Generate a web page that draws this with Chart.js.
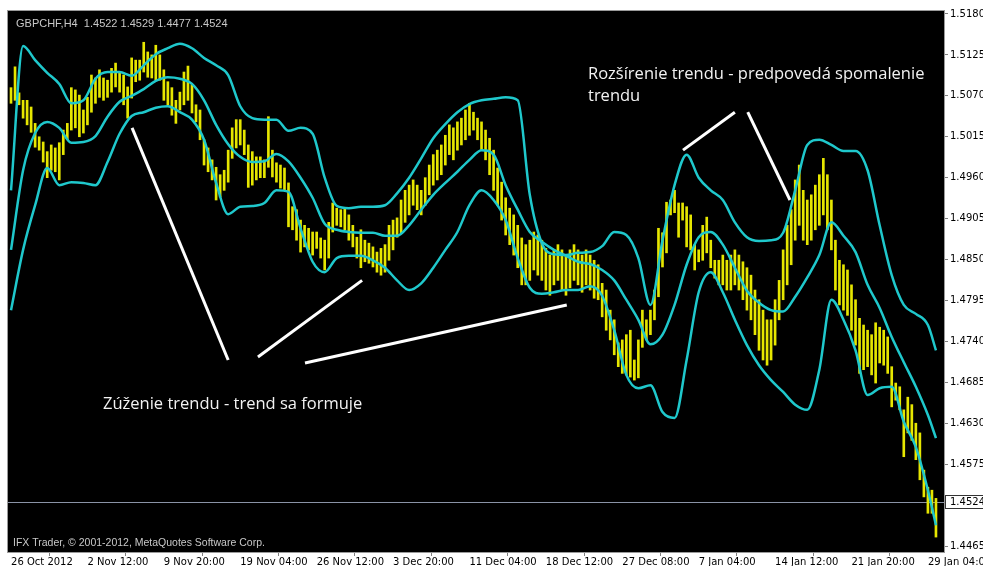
<!DOCTYPE html>
<html>
<head>
<meta charset="utf-8">
<script src="https://cdn.jsdelivr.net/npm/chart.js@4"></script>
<style>
  html, body { margin: 0; padding: 0; background: #fff; }
</style>
</head>
<body>
<canvas id="myChart" width="983" height="566"></canvas>
<script>
// GBPCHF H4 with Bollinger bands
const symbol = 'GBPCHF,H4';
const lastBar = { open: 1.4522, high: 1.4529, low: 1.4477, close: 1.4524 };

const timeLabels = ['26 Oct 2012', '2 Nov 12:00', '9 Nov 20:00', '19 Nov 04:00', '26 Nov 12:00', '3 Dec 20:00',
  '11 Dec 04:00', '18 Dec 12:00', '27 Dec 08:00', '7 Jan 04:00', '14 Jan 12:00', '21 Jan 20:00', '29 Jan 04:00'];
const barsPerLabel = 19;

const priceTicks = [1.5180, 1.5125, 1.5070, 1.5015, 1.4960, 1.4905, 1.4850, 1.4795, 1.4740, 1.4685, 1.4630, 1.4575, 1.4465];

const highs = [
  1.5081, 1.5109, 1.5074, 1.5064, 1.5064, 1.5055, 1.5033, 1.5015, 1.5008, 1.4995,
  1.5004, 1.5000, 1.5007, 1.5024, 1.5033, 1.5081, 1.5078, 1.5071, 1.5051, 1.5068,
  1.5098, 1.5094, 1.5105, 1.5094, 1.5091, 1.5107, 1.5114, 1.5101, 1.5098, 1.5082,
  1.5121, 1.5118, 1.5118, 1.5142, 1.5129, 1.5125, 1.5138, 1.5125, 1.5105, 1.5089,
  1.5081, 1.5064, 1.5075, 1.5102, 1.5110, 1.5085, 1.5058, 1.5051, 1.5011, 1.5000,
  1.4984, 1.4974, 1.4964, 1.4970, 1.4997, 1.5027, 1.5038, 1.5038, 1.5024, 1.5004,
  1.4995, 1.4988, 1.4988, 1.4984, 1.5042, 1.4997, 1.4980, 1.4977, 1.4973, 1.4953,
  1.4921, 1.4917, 1.4903, 1.4896, 1.4892, 1.4887, 1.4887, 1.4879, 1.4876, 1.4900,
  1.4926, 1.4919, 1.4917, 1.4919, 1.4910, 1.4896, 1.4880, 1.4890, 1.4876, 1.4872,
  1.4867, 1.4860, 1.4865, 1.4870, 1.4896, 1.4903, 1.4906, 1.4930, 1.4943, 1.4950,
  1.4957, 1.4950, 1.4943, 1.4960, 1.4977, 1.4991, 1.4997, 1.5004, 1.5017, 1.5031,
  1.5027, 1.5035, 1.5040, 1.5051, 1.5060, 1.5048, 1.5040, 1.5035, 1.5024, 1.5013,
  1.4997, 1.4973, 1.4954, 1.4933, 1.4919, 1.4910, 1.4896, 1.4879, 1.4870, 1.4876,
  1.4887, 1.4883, 1.4876, 1.4865, 1.4856, 1.4863, 1.4870, 1.4863, 1.4856, 1.4863,
  1.4870, 1.4863, 1.4856, 1.4863, 1.4856, 1.4849, 1.4843, 1.4818, 1.4809, 1.4782,
  1.4769, 1.4738, 1.4742, 1.4749, 1.4755, 1.4715, 1.4742, 1.4782, 1.4769, 1.4782,
  1.4809, 1.4892, 1.4886, 1.4927, 1.4930, 1.4943, 1.4926, 1.4926, 1.4921, 1.4910,
  1.4870, 1.4863, 1.4896, 1.4907, 1.4876, 1.4849, 1.4849, 1.4856, 1.4849, 1.4856,
  1.4863, 1.4856, 1.4847, 1.4839, 1.4829, 1.4809, 1.4796, 1.4782, 1.4769, 1.4769,
  1.4796, 1.4822, 1.4863, 1.4896, 1.4917, 1.4957, 1.4977, 1.4943, 1.4930, 1.4937,
  1.4950, 1.4964, 1.4986, 1.4964, 1.4930, 1.4876, 1.4849, 1.4843, 1.4836, 1.4816,
  1.4796, 1.4771, 1.4762, 1.4755, 1.4749, 1.4765, 1.4759, 1.4755, 1.4746, 1.4706,
  1.4684, 1.4679, 1.4648, 1.4665, 1.4655, 1.4630, 1.4617, 1.4567, 1.4544, 1.4540,
  1.4529
];
const lows = [
  1.5060, 1.5064, 1.5058, 1.5040, 1.5031, 1.5021, 1.5001, 1.4997, 1.4981, 1.4960,
  1.4970, 1.4968, 1.4957, 1.4991, 1.5011, 1.5024, 1.5027, 1.5015, 1.5020, 1.5031,
  1.5048, 1.5060, 1.5068, 1.5064, 1.5068, 1.5075, 1.5082, 1.5075, 1.5058, 1.5040,
  1.5067, 1.5089, 1.5091, 1.5102, 1.5095, 1.5094, 1.5091, 1.5091, 1.5064, 1.5058,
  1.5044, 1.5033, 1.5051, 1.5058, 1.5064, 1.5047, 1.5035, 1.5011, 1.4977, 1.4968,
  1.4957, 1.4930, 1.4934, 1.4943, 1.4954, 1.4986, 1.5000, 1.5004, 1.4991, 1.4947,
  1.4950, 1.4957, 1.4960, 1.4960, 1.4974, 1.4961, 1.4954, 1.4946, 1.4943, 1.4894,
  1.4890, 1.4876, 1.4860, 1.4867, 1.4863, 1.4856, 1.4865, 1.4852, 1.4836, 1.4852,
  1.4887, 1.4896, 1.4894, 1.4890, 1.4876, 1.4867, 1.4852, 1.4839, 1.4847, 1.4845,
  1.4840, 1.4833, 1.4829, 1.4833, 1.4849, 1.4863, 1.4880, 1.4886, 1.4900, 1.4910,
  1.4923, 1.4917, 1.4910, 1.4923, 1.4937, 1.4950, 1.4957, 1.4964, 1.4977, 1.4991,
  1.4984, 1.4997, 1.5004, 1.5011, 1.5017, 1.5024, 1.5011, 1.4997, 1.4984, 1.4964,
  1.4943, 1.4923, 1.4903, 1.4883, 1.4870, 1.4856, 1.4839, 1.4816, 1.4816, 1.4822,
  1.4836, 1.4829, 1.4822, 1.4809, 1.4802, 1.4816, 1.4822, 1.4809, 1.4802, 1.4812,
  1.4822, 1.4816, 1.4806, 1.4816, 1.4809, 1.4798, 1.4796, 1.4773, 1.4755, 1.4742,
  1.4722, 1.4706, 1.4697, 1.4695, 1.4692, 1.4688, 1.4691, 1.4732, 1.4742, 1.4749,
  1.4769, 1.4800, 1.4840, 1.4859, 1.4910, 1.4913, 1.4880, 1.4903, 1.4867, 1.4863,
  1.4836, 1.4847, 1.4849, 1.4859, 1.4839, 1.4825, 1.4816, 1.4816, 1.4809, 1.4809,
  1.4816, 1.4809, 1.4796, 1.4782, 1.4769, 1.4749, 1.4728, 1.4715, 1.4708, 1.4715,
  1.4735, 1.4769, 1.4796, 1.4816, 1.4843, 1.4876, 1.4896, 1.4876, 1.4870, 1.4876,
  1.4890, 1.4896, 1.4910, 1.4890, 1.4863, 1.4809, 1.4789, 1.4782, 1.4775, 1.4755,
  1.4735, 1.4697, 1.4702, 1.4706, 1.4695, 1.4684, 1.4711, 1.4708, 1.4697, 1.4652,
  1.4661, 1.4648, 1.4585, 1.4617, 1.4607, 1.4581, 1.4554, 1.4531, 1.4509, 1.4509,
  1.4477
];

// Bollinger bands, one value every bandStep bars (last value = last bar)
const bandStep = 3;
const upperBand = [
  1.4943, 1.5137, 1.5118, 1.5101, 1.5086, 1.5060, 1.5064, 1.5093, 1.5102, 1.5102,
  1.5097, 1.5111, 1.5126, 1.5134, 1.5140, 1.5134, 1.5121, 1.5111, 1.5098, 1.5056,
  1.5040, 1.5038, 1.5038, 1.5023, 1.5027, 1.5019, 1.4960, 1.4922, 1.4919, 1.4921,
  1.4921, 1.4923, 1.4939, 1.4960, 1.4986, 1.5013, 1.5032, 1.5048, 1.5059, 1.5064,
  1.5066, 1.5068, 1.5064, 1.4937, 1.4872, 1.4857, 1.4856, 1.4859, 1.4860, 1.4868,
  1.4887, 1.4883, 1.4852, 1.4789, 1.4876, 1.4950, 1.4991, 1.4960, 1.4943, 1.4930,
  1.4900, 1.4880, 1.4875, 1.4876, 1.4886, 1.4943, 1.5004, 1.5011, 1.5004, 1.4996,
  1.4996, 1.4970, 1.4896, 1.4829, 1.4789, 1.4777, 1.4762, 1.4728
];
const middleBand = [
  1.4863, 1.4970, 1.5020, 1.5035, 1.5027, 1.5007, 1.5008, 1.5016, 1.5042, 1.5062,
  1.5070, 1.5079, 1.5090, 1.5095, 1.5093, 1.5086, 1.5064, 1.5031, 1.5005, 1.4988,
  1.4981, 1.4982, 1.4992, 1.4982, 1.4960, 1.4933, 1.4898, 1.4890, 1.4887, 1.4886,
  1.4886, 1.4882, 1.4882, 1.4896, 1.4917, 1.4937, 1.4953, 1.4968, 1.4984, 1.4997,
  1.4991, 1.4950, 1.4917, 1.4887, 1.4874, 1.4863, 1.4855, 1.4847, 1.4844, 1.4836,
  1.4822, 1.4796, 1.4769, 1.4736, 1.4749, 1.4789, 1.4843, 1.4880, 1.4887, 1.4870,
  1.4839, 1.4808, 1.4792, 1.4782, 1.4780, 1.4800, 1.4826, 1.4856, 1.4900, 1.4882,
  1.4860, 1.4816, 1.4785, 1.4746, 1.4712, 1.4679, 1.4641, 1.4610
];
const lowerBand = [
  1.4782, 1.4863, 1.4923, 1.4973, 1.4950, 1.4954, 1.4953, 1.4950, 1.4981, 1.5019,
  1.5043, 1.5048, 1.5054, 1.5056, 1.5048, 1.5038, 1.5011, 1.4953, 1.4911, 1.4921,
  1.4922, 1.4926, 1.4943, 1.4941, 1.4892, 1.4847, 1.4833, 1.4852, 1.4855, 1.4855,
  1.4849, 1.4839, 1.4822, 1.4809, 1.4818, 1.4839, 1.4863, 1.4887, 1.4923, 1.4943,
  1.4930, 1.4903, 1.4852, 1.4812, 1.4804, 1.4806, 1.4809, 1.4809, 1.4814, 1.4801,
  1.4755, 1.4695, 1.4677, 1.4681, 1.4645, 1.4637, 1.4715, 1.4806, 1.4833, 1.4806,
  1.4769, 1.4735, 1.4708, 1.4688, 1.4672, 1.4655, 1.4648, 1.4702, 1.4796, 1.4769,
  1.4728, 1.4668, 1.4677, 1.4679, 1.4632, 1.4598, 1.4540, 1.4493
];

// hand-drawn trend lines: [bar, price] pairs
const trendLines = [
  [[30.1, 1.5027], [54.0, 1.4715]],
  [[61.4, 1.4719], [87.3, 1.4822]],
  [[73.1, 1.4711], [138.2, 1.4789]],
  [[167.1, 1.4997], [180.0, 1.5048]],
  [[183.2, 1.5048], [193.7, 1.4930]]
];
const noteNarrow = ['Zúženie trendu - trend sa formuje'];
const noteWide = ['Rozšírenie trendu - predpovedá spomalenie', 'trendu'];
const copyright = 'IFX Trader, \u00a9 2001-2012, MetaQuotes Software Corp.';

const bandX = upperBand.map((v, j) => Math.min(j * bandStep, highs.length - 1));
const toPoints = arr => arr.map((v, j) => ({ x: bandX[j], y: v }));

const bandStyle = {
  type: 'line', borderColor: '#1fc8cc', borderWidth: 2.5, pointRadius: 0,
  cubicInterpolationMode: 'monotone', fill: false, order: 2
};

const datasets = [
  {
    type: 'bar',
    data: highs.map((h, i) => ({ x: i, y: [lows[i], h] })),
    backgroundColor: '#e6e600',
    barThickness: 2,
    grouped: false,
    order: 3
  },
  Object.assign({ data: toPoints(upperBand) }, bandStyle),
  Object.assign({ data: toPoints(middleBand) }, bandStyle),
  Object.assign({ data: toPoints(lowerBand) }, bandStyle)
];
trendLines.forEach(seg => {
  datasets.push({
    type: 'line',
    data: seg.map(p => ({ x: p[0], y: p[1] })),
    borderColor: '#ffffff', borderWidth: 3, pointRadius: 0, order: 1
  });
});

const axisFont = { family: 'DejaVu Sans', size: 10 };

const mtFrame = {
  id: 'mtFrame',
  beforeDraw(chart) {
    const { ctx, chartArea: a } = chart;
    ctx.save();
    ctx.fillStyle = '#000';
    ctx.fillRect(a.left, a.top, a.right - a.left, a.bottom - a.top);
    ctx.restore();
  },
  beforeDatasetsDraw(chart) {
    const { ctx, chartArea: a, scales } = chart;
    const py = Math.round(scales.y.getPixelForValue(lastBar.close)) + 0.5;
    ctx.save();
    ctx.strokeStyle = '#8a93a6';
    ctx.lineWidth = 1;
    ctx.beginPath();
    ctx.moveTo(a.left, py);
    ctx.lineTo(a.right, py);
    ctx.stroke();
    ctx.restore();
  },
  afterDraw(chart) {
    const { ctx, chartArea: a, scales } = chart;
    ctx.save();
    // frame
    ctx.strokeStyle = '#9a9a9a';
    ctx.lineWidth = 1;
    ctx.strokeRect(a.left - 0.5, a.top - 0.5, a.right - a.left + 1, a.bottom - a.top + 1);

    // current price box
    const py = Math.round(scales.y.getPixelForValue(lastBar.close));
    ctx.fillStyle = '#fff';
    ctx.fillRect(a.right + 1, py - 7, 40, 14);
    ctx.strokeStyle = '#333';
    ctx.strokeRect(a.right + 1.5, py - 6.5, 40, 13);
    ctx.fillStyle = '#000';
    ctx.font = '10px "DejaVu Sans"';
    ctx.textBaseline = 'middle';
    ctx.fillText(lastBar.close.toFixed(4), a.right + 6, py + 0.5);

    // header and footer
    ctx.textBaseline = 'alphabetic';
    ctx.fillStyle = '#c8c8c8';
    ctx.font = '11px "Liberation Sans"';
    const head = symbol + '  ' + [lastBar.open, lastBar.high, lastBar.low, lastBar.close].map(v => v.toFixed(4)).join(' ');
    ctx.fillText(head, a.left + 8, a.top + 16);
    ctx.font = '10.5px "Liberation Sans"';
    ctx.fillText(copyright, a.left + 5, a.bottom - 6);

    // notes
    ctx.fillStyle = '#f2f2f2';
    ctx.font = '16.5px "Open Sans"';
    noteNarrow.forEach((t, k) => ctx.fillText(t, 103, 409 + k * 22));
    noteWide.forEach((t, k) => ctx.fillText(t, 588, 79 + k * 22));
    ctx.restore();
  }
};

new Chart(document.getElementById('myChart'), {
  data: { datasets },
  options: {
    responsive: false,
    animation: false,
    layout: { autoPadding: false, padding: { left: 8, top: 11, right: 0, bottom: 0 } },
    plugins: { legend: { display: false }, tooltip: { enabled: false } },
    scales: {
      x: {
        type: 'linear',
        offset: false,
        min: -0.75,
        max: 232,
        afterBuildTicks: s => { s.ticks = timeLabels.map((t, k) => ({ value: k * barsPerLabel })); },
        afterFit: s => { s.height = 14; s.paddingLeft = 0; s.paddingRight = 0; },
        ticks: {
          callback: (v) => timeLabels[Math.round(v / barsPerLabel)],
          align: 'start', maxRotation: 0, autoSkip: false, padding: 0,
          color: '#000', font: axisFont
        },
        grid: { drawOnChartArea: false, drawTicks: true, tickLength: 4, color: '#808080' },
        border: { display: true, color: '#808080' }
      },
      y: {
        type: 'linear',
        position: 'right',
        min: 1.445694,
        max: 1.518403,
        afterBuildTicks: s => { s.ticks = priceTicks.map(v => ({ value: v })); },
        afterFit: s => { s.width = 39; s.paddingTop = 0; s.paddingBottom = 0; },
        ticks: {
          callback: v => v.toFixed(4),
          padding: 2, color: '#000', font: axisFont
        },
        grid: { drawOnChartArea: false, drawTicks: true, tickLength: 4, color: '#808080' },
        border: { display: true, color: '#808080' }
      }
    }
  },
  plugins: [mtFrame]
});
</script>
</body>
</html>
